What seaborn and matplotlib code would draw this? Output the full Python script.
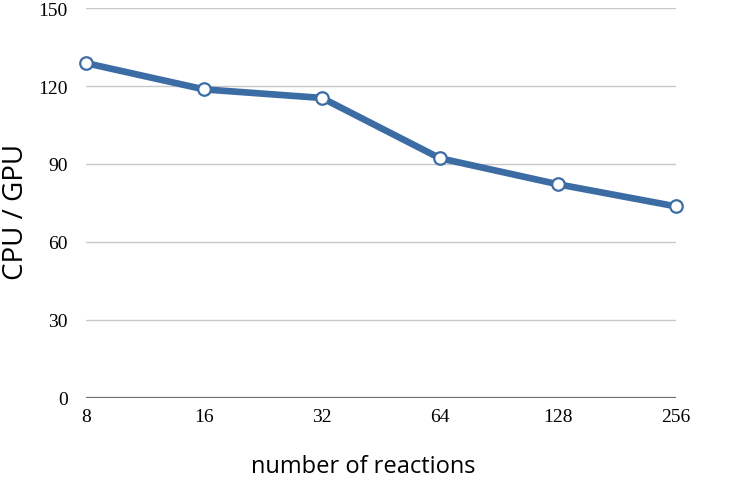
import matplotlib
matplotlib.use("Agg")
import matplotlib.pyplot as plt
import seaborn as sns
import pandas as pd

reactions = ["8", "16", "32", "64", "128", "256"]
ratio = [128.8, 118.7, 115.4, 92.2, 82.2, 73.7]
yticks = [0, 30, 60, 90, 120, 150]

sns.set_style("white")
df = pd.DataFrame({"reactions": reactions, "ratio": ratio})

fig = plt.figure(figsize=(7.56, 4.81), dpi=100)
ax = fig.add_axes([86/756, 1-399/481, 590/756, 390/481])

for y in yticks[1:]:
    ax.axhline(y, color="#c8c8c8", lw=1.0, zorder=0)
ax.axhline(0, color="#707070", lw=1.6, zorder=0)

sns.lineplot(data=df, x="reactions", y="ratio", ax=ax, color="#3C6CA4",
             linewidth=4.8, marker="o", markersize=9, markerfacecolor="white",
             markeredgecolor="#3C6CA4", markeredgewidth=1.6, sort=False, zorder=3,
             clip_on=False)

ax.set_xlim(0, 5)
ax.set_ylim(0, 150)
ax.set_yticks(yticks)
ax.set_yticklabels([str(v) for v in yticks], family="Liberation Serif", fontsize=14, color="black")
ax.set_xticks(range(len(reactions)))
ax.set_xticklabels(reactions, family="Liberation Serif", fontsize=14, color="black")
ax.tick_params(axis="both", length=0)
ax.tick_params(axis="y", pad=13)
ax.tick_params(axis="x", pad=7)
for s in ax.spines.values():
    s.set_visible(False)
ax.grid(False)
ax.set_xlabel("number of reactions", family="Open Sans", fontsize=17, color="black")
ax.xaxis.set_label_coords((363 - 86) / 590, -(467 - 399) / 390)
ax.xaxis.label.set_verticalalignment("center")
ax.set_ylabel("CPU / GPU", family="Open Sans", fontsize=20, color="black")
ax.yaxis.set_label_coords((16 - 86) / 590, (399 - 212) / 390)
ax.yaxis.label.set_verticalalignment("center")

fig.savefig("out.png", dpi=100)
